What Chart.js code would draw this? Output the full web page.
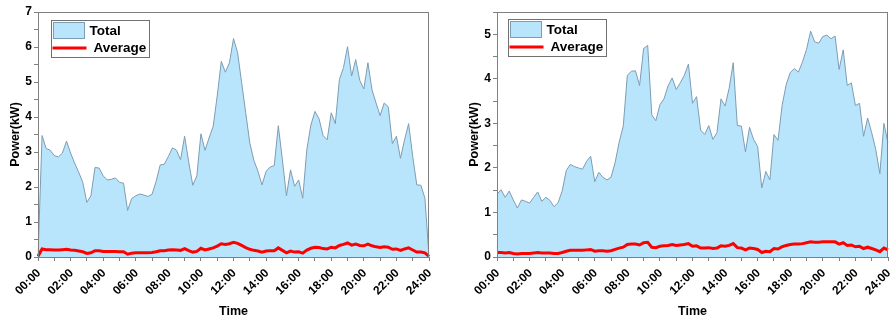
<!DOCTYPE html>
<html>
<head>
  <title>Power profiles</title>
  <script src="https://cdn.jsdelivr.net/npm/chart.js"></script>
  <style>
    body { margin: 0; background: #fff; }
    canvas { position: absolute; top: 0; }
    #left { left: 0; }
    #right { left: 450px; }
  </style>
</head>
<body>
  <canvas id="left" width="450" height="322"></canvas>
  <canvas id="right" width="445" height="322"></canvas>

  <script>
    // 15-minute readings from 00:00 to 24:00
    const times = [];
    for (let m = 0; m <= 24 * 60; m += 15) {
      times.push(String(Math.floor(m / 60)).padStart(2, "0") + ":" + String(m % 60).padStart(2, "0"));
    }

    // left panel
    const totalA = [0, 3.47, 3.1, 3.05, 2.9, 2.86, 2.97, 3.31, 2.97, 2.68, 2.42, 2.13, 1.56, 1.75, 2.56, 2.54,
      2.32, 2.2, 2.22, 2.26, 2.13, 2.11, 1.33, 1.67, 1.75, 1.8, 1.77, 1.73, 1.79, 2.16, 2.63, 2.65,
      2.87, 3.12, 3.05, 2.78, 3.45, 2.72, 2.05, 2.32, 3.52, 3.05, 3.4, 3.73, 4.6, 5.59, 5.28, 5.55,
      6.24, 5.84, 4.98, 4.12, 3.26, 2.76, 2.45, 2.06, 2.45, 2.57, 2.61, 3.75, 2.78, 1.75, 2.49, 2.02,
      2.2, 1.68, 3.07, 3.77, 4.16, 3.95, 3.47, 3.35, 4.12, 3.81, 5.07, 5.41, 6.01, 5.17, 5.64, 5.05,
      4.8, 5.55, 4.78, 4.4, 4.04, 4.4, 4.29, 3.24, 3.45, 2.82, 3.35, 3.81, 2.87, 2.06, 2.05, 1.68, 0];
    const averageA = [0.02, 0.23, 0.21, 0.21, 0.2, 0.2, 0.21, 0.22, 0.2, 0.19, 0.17, 0.15, 0.1, 0.12, 0.18, 0.18,
      0.16, 0.16, 0.16, 0.16, 0.15, 0.15, 0.08, 0.11, 0.12, 0.12, 0.12, 0.12, 0.13, 0.15, 0.18, 0.18,
      0.2, 0.21, 0.2, 0.19, 0.24, 0.18, 0.14, 0.16, 0.25, 0.2, 0.23, 0.26, 0.31, 0.38, 0.36, 0.38,
      0.42, 0.39, 0.33, 0.27, 0.22, 0.19, 0.17, 0.14, 0.17, 0.18, 0.18, 0.26, 0.19, 0.12, 0.17, 0.14,
      0.15, 0.11, 0.2, 0.25, 0.28, 0.27, 0.24, 0.23, 0.28, 0.26, 0.33, 0.36, 0.4, 0.34, 0.37, 0.33,
      0.32, 0.37, 0.32, 0.29, 0.27, 0.29, 0.28, 0.22, 0.23, 0.19, 0.23, 0.26, 0.2, 0.14, 0.14, 0.12, 0.02];

    // right panel
    const totalB = [1.41, 1.51, 1.34, 1.48, 1.28, 1.1, 1.28, 1.25, 1.21, 1.34, 1.46, 1.25, 1.34, 1.27, 1.13, 1.22,
      1.48, 1.94, 2.08, 2.03, 2.0, 1.97, 2.15, 2.26, 1.69, 1.9, 1.79, 1.73, 1.79, 2.12, 2.58, 2.94,
      4.08, 4.17, 4.18, 3.85, 4.68, 4.75, 3.19, 3.06, 3.42, 3.55, 3.84, 4.02, 3.76, 3.91, 4.08, 4.33,
      3.45, 3.6, 2.85, 2.75, 2.95, 2.64, 2.79, 3.55, 3.39, 3.79, 4.36, 2.95, 2.94, 2.36, 2.91, 2.64,
      2.48, 1.55, 1.92, 1.73, 2.75, 2.62, 3.4, 3.87, 4.14, 4.23, 4.15, 4.38, 4.66, 5.07, 4.83, 4.8,
      4.95, 4.98, 4.9, 4.96, 4.21, 4.65, 3.85, 3.91, 3.4, 3.45, 2.71, 3.12, 2.79, 2.41, 1.87, 3.0, 2.56];
    const averageB = [0.1, 0.1, 0.09, 0.1, 0.08, 0.07, 0.08, 0.08, 0.08, 0.09, 0.1, 0.09, 0.09, 0.09, 0.08, 0.08,
      0.1, 0.13, 0.15, 0.15, 0.15, 0.15, 0.16, 0.17, 0.13, 0.14, 0.14, 0.13, 0.14, 0.17, 0.2, 0.22,
      0.28, 0.29, 0.29, 0.27, 0.32, 0.33, 0.22, 0.21, 0.24, 0.25, 0.26, 0.28, 0.26, 0.27, 0.28, 0.3,
      0.24, 0.25, 0.2, 0.2, 0.21, 0.19, 0.2, 0.25, 0.24, 0.26, 0.3, 0.21, 0.2, 0.16, 0.2, 0.19,
      0.17, 0.1, 0.13, 0.12, 0.19, 0.18, 0.23, 0.26, 0.28, 0.29, 0.29, 0.3, 0.32, 0.34, 0.33, 0.33,
      0.34, 0.34, 0.34, 0.34, 0.29, 0.32, 0.26, 0.27, 0.23, 0.24, 0.19, 0.22, 0.19, 0.16, 0.12, 0.2, 0.16];

    const FILL = "#b9e5fc";
    const EDGE = "#7d9db3";
    const AXIS = "#808080";

    Chart.defaults.font.family = "'Liberation Sans', Arial, sans-serif";
    Chart.defaults.font.weight = "bold";
    Chart.defaults.color = "#000";

    // grey box round the plot area
    const frame = {
      id: "frame",
      afterDraw(chart) {
        const a = chart.chartArea, c = chart.ctx;
        c.save();
        c.strokeStyle = AXIS;
        c.lineWidth = 1;
        c.strokeRect(Math.round(a.left) + 0.5, Math.round(a.top) + 0.5,
          Math.round(a.width) - 1, Math.round(a.height));
        c.restore();
      }
    };

    // boxed legend inside the top-left corner
    const boxLegend = {
      id: "boxLegend",
      afterDraw(chart, args, opts) {
        const c = chart.ctx, a = chart.chartArea;
        const x = Math.round(a.left + opts.dx) + 0.5, y = Math.round(a.top + opts.dy) + 0.5;
        const ds = chart.data.datasets;
        c.save();
        c.fillStyle = "#fff";
        c.fillRect(x, y, 98, 37);
        c.strokeStyle = "#707070";
        c.lineWidth = 1;
        c.strokeRect(x, y, 98, 37);

        c.fillStyle = ds[1].backgroundColor;
        c.strokeStyle = ds[1].borderColor;
        c.fillRect(x + 2, y + 2, 31, 16);
        c.strokeRect(x + 2, y + 2, 31, 16);

        c.strokeStyle = ds[0].borderColor;
        c.lineWidth = 3;
        c.beginPath();
        c.moveTo(x + 1, y + 27.5);
        c.lineTo(x + 35, y + 27.5);
        c.stroke();

        c.fillStyle = "#000";
        c.font = "bold 13.5px 'Liberation Sans', Arial, sans-serif";
        c.textBaseline = "middle";
        c.fillText(ds[1].label, x + 38, y + 10.5);
        c.fillText(ds[0].label, x + 42, y + 28);
        c.restore();
      }
    };

    function makeChart(id, total, average, yMax, pad, legendPos) {
      return new Chart(document.getElementById(id), {
        type: "line",
        data: {
          labels: times,
          datasets: [
            {
              label: "Average",
              data: average,
              borderColor: "#ff0000",
              borderWidth: 3,
              pointRadius: 0,
              fill: false,
              order: 1
            },
            {
              label: "Total",
              data: total,
              borderColor: EDGE,
              borderWidth: 1,
              backgroundColor: FILL,
              pointRadius: 0,
              fill: "origin",
              order: 2
            }
          ]
        },
        options: {
          responsive: false,
          animation: false,
          devicePixelRatio: 1,
          layout: { padding: pad },
          plugins: {
            legend: { display: false },
            tooltip: { enabled: false },
            boxLegend: legendPos
          },
          scales: {
            x: {
              border: { display: false },
              grid: {
                drawOnChartArea: false,
                tickLength: 4,
                tickColor: ctx => ctx.index % 4 === 0 ? AXIS : "transparent"
              },
              ticks: {
                autoSkip: false,
                minRotation: 45,
                maxRotation: 45,
                padding: 5,
                labelOffset: 1,
                font: { size: 12 },
                callback: (v, i) => i % 8 === 0 ? times[i] : ""
              },
              title: {
                display: true,
                text: "Time",
                font: { size: 12.5 },
                padding: { top: 0, bottom: 2.5 }
              },
              afterFit: s => {
                s.height = 65;
                s.paddingLeft = 0;
                s.paddingRight = 0;
              }
            },
            y: {
              min: 0,
              max: yMax,
              border: { display: false },
              grid: { drawOnChartArea: false, tickLength: 4, tickColor: AXIS },
              ticks: {
                stepSize: 0.5,
                autoSkip: false,
                includeBounds: false,
                padding: 2,
                font: { size: 12 },
                callback: v => Number.isInteger(v) ? v : ""
              },
              title: {
                display: true,
                text: "Power(kW)",
                font: { size: 12.5 },
                padding: { top: 8, bottom: 0 }
              },
              afterFit: s => {
                s.width = 38;
                s.paddingTop = 0;
                s.paddingBottom = 0;
              }
            }
          }
        },
        plugins: [frame, boxLegend]
      });
    }

    makeChart("left", totalA, averageA, 7, { top: 12, right: 21, left: 0, bottom: 0 }, { dx: 12.5, dy: 8 });
    makeChart("right", totalB, averageB, 5.5, { top: 12, right: 7, left: 9, bottom: 0 }, { dx: 10.5, dy: 6.5 });
  </script>
</body>
</html>
